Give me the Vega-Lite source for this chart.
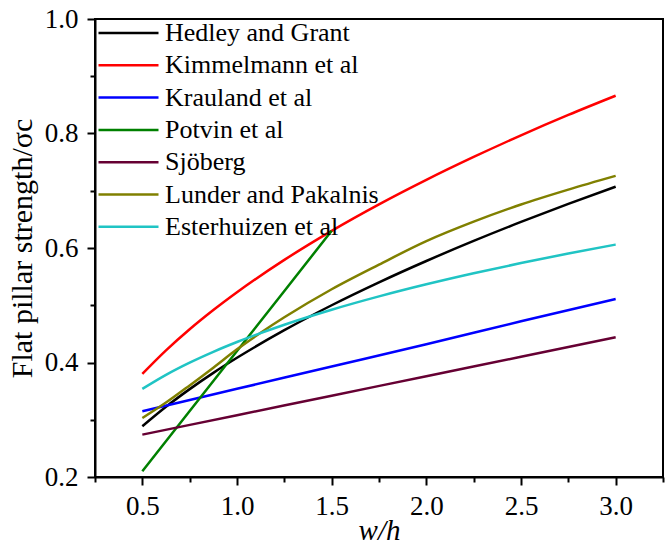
{
  "$schema": "https://vega.github.io/schema/vega-lite/v6.json",
  "autosize": "none",
  "padding": {"left": 95, "top": 19, "right": 6, "bottom": 71},
  "width": 568,
  "height": 458,
  "background": "white",
  "config": {
    "font": "Liberation Serif",
    "view": {"stroke": "black", "strokeWidth": 2},
    "axis": {
      "domainColor": "black", "domainWidth": 2, "tickColor": "black", "tickWidth": 2,
      "labelFont": "Liberation Serif", "labelFontSize": 27, "labelColor": "black",
      "titleFont": "Liberation Serif", "titleColor": "black", "titleFontWeight": "normal",
      "grid": false
    },
    "legend": {"labelFont": "Liberation Serif", "labelFontSize": 26, "labelColor": "black"}
  },
  "data": {"values": [
    {"s": "Hedley and Grant", "x": 0.5, "y": 0.2887}, {"s": "Hedley and Grant", "x": 0.625, "y": 0.3227}, {"s": "Hedley and Grant", "x": 0.75, "y": 0.3535}, {"s": "Hedley and Grant", "x": 0.875, "y": 0.3819}, {"s": "Hedley and Grant", "x": 1.0, "y": 0.4082}, {"s": "Hedley and Grant", "x": 1.25, "y": 0.4564}, {"s": "Hedley and Grant", "x": 1.5, "y": 0.5}, {"s": "Hedley and Grant", "x": 1.75, "y": 0.54}, {"s": "Hedley and Grant", "x": 2.0, "y": 0.5773}, {"s": "Hedley and Grant", "x": 2.25, "y": 0.6124}, {"s": "Hedley and Grant", "x": 2.5, "y": 0.6455}, {"s": "Hedley and Grant", "x": 2.75, "y": 0.677}, {"s": "Hedley and Grant", "x": 3.0, "y": 0.7071},
    {"s": "Kimmelmann et al", "x": 0.5, "y": 0.38}, {"s": "Kimmelmann et al", "x": 0.625, "y": 0.4211}, {"s": "Kimmelmann et al", "x": 0.75, "y": 0.458}, {"s": "Kimmelmann et al", "x": 0.875, "y": 0.4916}, {"s": "Kimmelmann et al", "x": 1.0, "y": 0.5227}, {"s": "Kimmelmann et al", "x": 1.25, "y": 0.5792}, {"s": "Kimmelmann et al", "x": 1.5, "y": 0.6299}, {"s": "Kimmelmann et al", "x": 1.75, "y": 0.6762}, {"s": "Kimmelmann et al", "x": 2.0, "y": 0.719}, {"s": "Kimmelmann et al", "x": 2.25, "y": 0.759}, {"s": "Kimmelmann et al", "x": 2.5, "y": 0.7968}, {"s": "Kimmelmann et al", "x": 2.75, "y": 0.8324}, {"s": "Kimmelmann et al", "x": 3.0, "y": 0.866},
    {"s": "Krauland et al", "x": 0.5, "y": 0.315}, {"s": "Krauland et al", "x": 1.0, "y": 0.354}, {"s": "Krauland et al", "x": 1.5, "y": 0.393}, {"s": "Krauland et al", "x": 2.0, "y": 0.432}, {"s": "Krauland et al", "x": 2.5, "y": 0.472}, {"s": "Krauland et al", "x": 3.0, "y": 0.511},
    {"s": "Potvin et al", "x": 0.5, "y": 0.21}, {"s": "Potvin et al", "x": 1.0, "y": 0.42}, {"s": "Potvin et al", "x": 1.5, "y": 0.63},
    {"s": "Sjöberg", "x": 0.5, "y": 0.274}, {"s": "Sjöberg", "x": 1.0, "y": 0.308}, {"s": "Sjöberg", "x": 1.5, "y": 0.342}, {"s": "Sjöberg", "x": 2.0, "y": 0.376}, {"s": "Sjöberg", "x": 2.5, "y": 0.41}, {"s": "Sjöberg", "x": 3.0, "y": 0.444},
    {"s": "Lunder and Pakalnis", "x": 0.5, "y": 0.303}, {"s": "Lunder and Pakalnis", "x": 0.625, "y": 0.330}, {"s": "Lunder and Pakalnis", "x": 0.75, "y": 0.360}, {"s": "Lunder and Pakalnis", "x": 0.875, "y": 0.391}, {"s": "Lunder and Pakalnis", "x": 1.0, "y": 0.423}, {"s": "Lunder and Pakalnis", "x": 1.125, "y": 0.452}, {"s": "Lunder and Pakalnis", "x": 1.25, "y": 0.479}, {"s": "Lunder and Pakalnis", "x": 1.5, "y": 0.528}, {"s": "Lunder and Pakalnis", "x": 1.75, "y": 0.571}, {"s": "Lunder and Pakalnis", "x": 2.0, "y": 0.612}, {"s": "Lunder and Pakalnis", "x": 2.25, "y": 0.646}, {"s": "Lunder and Pakalnis", "x": 2.5, "y": 0.676}, {"s": "Lunder and Pakalnis", "x": 2.75, "y": 0.702}, {"s": "Lunder and Pakalnis", "x": 3.0, "y": 0.726},
    {"s": "Esterhuizen et al", "x": 0.5, "y": 0.354}, {"s": "Esterhuizen et al", "x": 0.625, "y": 0.3785}, {"s": "Esterhuizen et al", "x": 0.75, "y": 0.3998}, {"s": "Esterhuizen et al", "x": 0.875, "y": 0.4187}, {"s": "Esterhuizen et al", "x": 1.0, "y": 0.4358}, {"s": "Esterhuizen et al", "x": 1.25, "y": 0.466}, {"s": "Esterhuizen et al", "x": 1.5, "y": 0.4922}, {"s": "Esterhuizen et al", "x": 1.75, "y": 0.5155}, {"s": "Esterhuizen et al", "x": 2.0, "y": 0.5366}, {"s": "Esterhuizen et al", "x": 2.25, "y": 0.5559}, {"s": "Esterhuizen et al", "x": 2.5, "y": 0.5737}, {"s": "Esterhuizen et al", "x": 2.75, "y": 0.5904}, {"s": "Esterhuizen et al", "x": 3.0, "y": 0.606}
  ]},
  "mark": {"type": "line", "strokeWidth": 2.5, "interpolate": "monotone"},
  "encoding": {
    "x": {
      "field": "x", "type": "quantitative",
      "scale": {"domain": [0.25, 3.25], "nice": false, "zero": false},
      "axis": {
        "title": "w/h", "titleFontStyle": "italic", "titleFontSize": 29, "titlePadding": -3,
        "values": [0.25, 0.5, 0.75, 1.0, 1.25, 1.5, 1.75, 2.0, 2.25, 2.5, 2.75, 3.0, 3.25],
        "labelExpr": "abs(datum.value*2 - round(datum.value*2)) < 1e-6 ? format(datum.value, '.1f') : ''",
        "tickSize": {"condition": {"test": "abs(datum.value*2 - round(datum.value*2)) < 1e-6", "value": 8}, "value": 5},
        "labelPadding": 8, "labelFlush": false, "labelOverlap": false
      }
    },
    "y": {
      "field": "y", "type": "quantitative",
      "scale": {"domain": [0.2, 1.0], "nice": false, "zero": false},
      "axis": {
        "title": "Flat pillar strength/σc", "titleFontSize": 30, "titlePadding": 7,
        "values": [0.2, 0.3, 0.4, 0.5, 0.6, 0.7, 0.8, 0.9, 1.0],
        "labelExpr": "abs(datum.value*5 - round(datum.value*5)) < 1e-6 ? format(datum.value, '.1f') : ''",
        "tickSize": {"condition": {"test": "abs(datum.value*5 - round(datum.value*5)) < 1e-6", "value": 8}, "value": 5},
        "labelPadding": 9, "labelFlush": false, "labelOverlap": false
      }
    },
    "color": {
      "field": "s", "type": "nominal",
      "scale": {
        "domain": ["Hedley and Grant", "Kimmelmann et al", "Krauland et al", "Potvin et al", "Sjöberg", "Lunder and Pakalnis", "Esterhuizen et al"],
        "range": ["#000000", "#FF0000", "#0000FF", "#008000", "#660033", "#808000", "#20C4C4"]
      },
      "legend": {
        "title": null, "orient": "none", "legendX": 2, "legendY": 0,
        "symbolType": "stroke", "symbolSize": 3600, "symbolStrokeWidth": 2.5,
        "clipHeight": 28, "labelOffset": 5, "rowPadding": 4.3, "labelLimit": 400
      }
    }
  }
}
